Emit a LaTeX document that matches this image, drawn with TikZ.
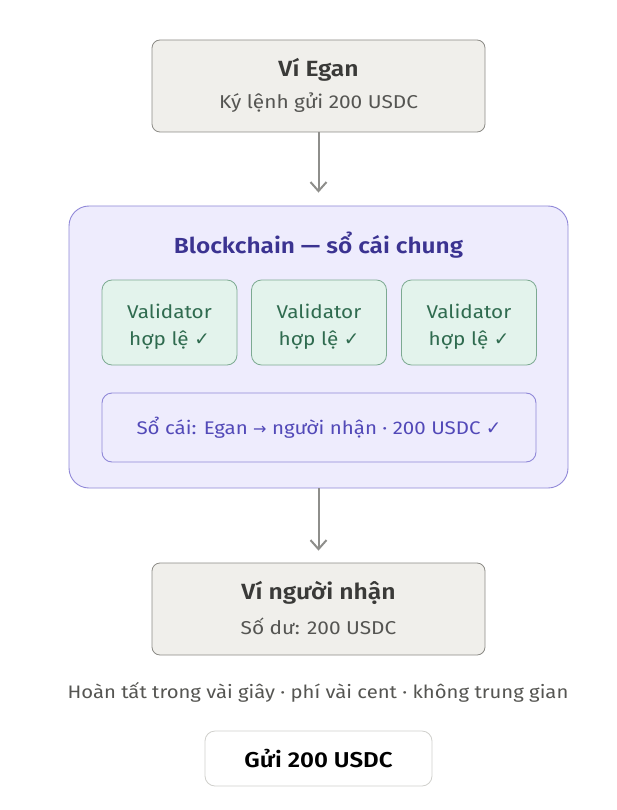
\documentclass[tikz,border=0pt]{standalone}
\usepackage{fontspec}
\setmainfont{Fira Sans}[BoldFont={Fira Sans SemiBold}, FakeStretch=1.12]
\newfontfamily\symfont{DejaVu Sans}
\usetikzlibrary{arrows.meta}
\definecolor{greyfill}{HTML}{F0EFEB}
\definecolor{greyline}{HTML}{8C8B86}
\definecolor{darktext}{HTML}{3A3A38}
\definecolor{subtext}{HTML}{555552}
\definecolor{chainfill}{HTML}{EEECFD}
\definecolor{chainline}{HTML}{9088D8}
\definecolor{chaintitle}{HTML}{3B3391}
\definecolor{ledgertext}{HTML}{5249B8}
\definecolor{valfill}{HTML}{E3F3EC}
\definecolor{valline}{HTML}{7DAA92}
\definecolor{valtext}{HTML}{2F6B4F}
\definecolor{arrowgrey}{HTML}{8E8E8B}
\definecolor{btnline}{HTML}{D0D0CC}
\tikzset{
  walletbox/.style={draw=greyline, fill=greyfill, line width=0.8pt, rounded corners=8pt, minimum width=333pt, minimum height=92pt, inner sep=0pt},
  chainbox/.style={draw=chainline, fill=chainfill, line width=0.9pt, rounded corners=20pt, minimum width=499pt, minimum height=282pt, inner sep=0pt},
  valbox/.style={draw=valline, fill=valfill, line width=0.8pt, rounded corners=10pt, minimum width=135pt, minimum height=85pt, inner sep=0pt},
  valtextstyle/.style={text=valtext, font=\fontsize{18.5}{27}\selectfont, align=center, inner sep=0pt},
  ledgerbox/.style={draw=chainline, fill=chainfill, line width=0.9pt, rounded corners=10pt, minimum width=434pt, minimum height=69pt, inner sep=0pt, text=ledgertext, font=\fontsize{18.3}{20}\selectfont},
  btnbox/.style={draw=btnline, fill=white, line width=0.8pt, rounded corners=10pt, minimum width=227pt, minimum height=55pt, inner sep=0pt, font=\bfseries\fontsize{21.5}{24}\selectfont, text=black},
  titletext/.style={font=\bfseries\fontsize{22}{24}\selectfont, text=darktext},
  subtitletext/.style={font=\fontsize{18.6}{20}\selectfont, text=subtext},
  flow/.style={draw=arrowgrey, line width=2pt, -{Straight Barb[length=9pt, width=16pt, line width=2pt]}},
}
\newcommand{\chk}{{\symfont\fontsize{18.5}{20}\selectfont ✓}}
\begin{document}
\begin{tikzpicture}[x=1pt, y=-1pt]
\useasboundingbox[fill=white] (0,0) rectangle (616,810);
% top wallet
\node[walletbox] (egan) at (318.5,86) {};
\node[titletext] (eganT) at (318.5,70) {Ví Egan};
\node[subtitletext] (eganS) at (318.5,103) {Ký lệnh gửi 200 USDC};
% blockchain
\node[chainbox] (chain) at (318.5,347) {};
\node[font=\bfseries\fontsize{21.8}{24}\selectfont, text=chaintitle] (chainT) at (318.5,245) {Blockchain — sổ cái chung};
\node[valbox] (v1) at (169.5,322.5) {};
\node[valbox] (v2) at (319,322.5) {};
\node[valbox] (v3) at (469,322.5) {};
\node[valtextstyle] (v1t) at (169.5,326.5) {Validator\\hợp lệ \chk};
\node[valtextstyle] (v2t) at (319,326.5) {Validator\\hợp lệ \chk};
\node[valtextstyle] (v3t) at (469,326.5) {Validator\\hợp lệ \chk};
\node[ledgerbox] (ledger) at (319,427.5) {Sổ cái: Egan {\symfont\fontsize{16}{20}\selectfont →} người nhận · 200 USDC \chk};
% receiver
\node[walletbox] (recv) at (318.5,609) {};
\node[titletext] (recvT) at (318.5,593) {Ví người nhận};
\node[subtitletext] (recvS) at (318.5,626) {Số dư: 200 USDC};
% caption
\node[font=\fontsize{18.1}{20}\selectfont, text=subtext] (cap) at (318,692) {Hoàn tất trong vài giây · phí vài cent · không trung gian};
% button
\node[btnbox] (btn) at (318.5,758.5) {Gửi 200 USDC};
% arrows
\draw[flow] (egan.south) -- ([yshift=13pt]chain.north);
\draw[flow] (chain.south) -- ([yshift=12pt]recv.north);
\end{tikzpicture}
\end{document}
